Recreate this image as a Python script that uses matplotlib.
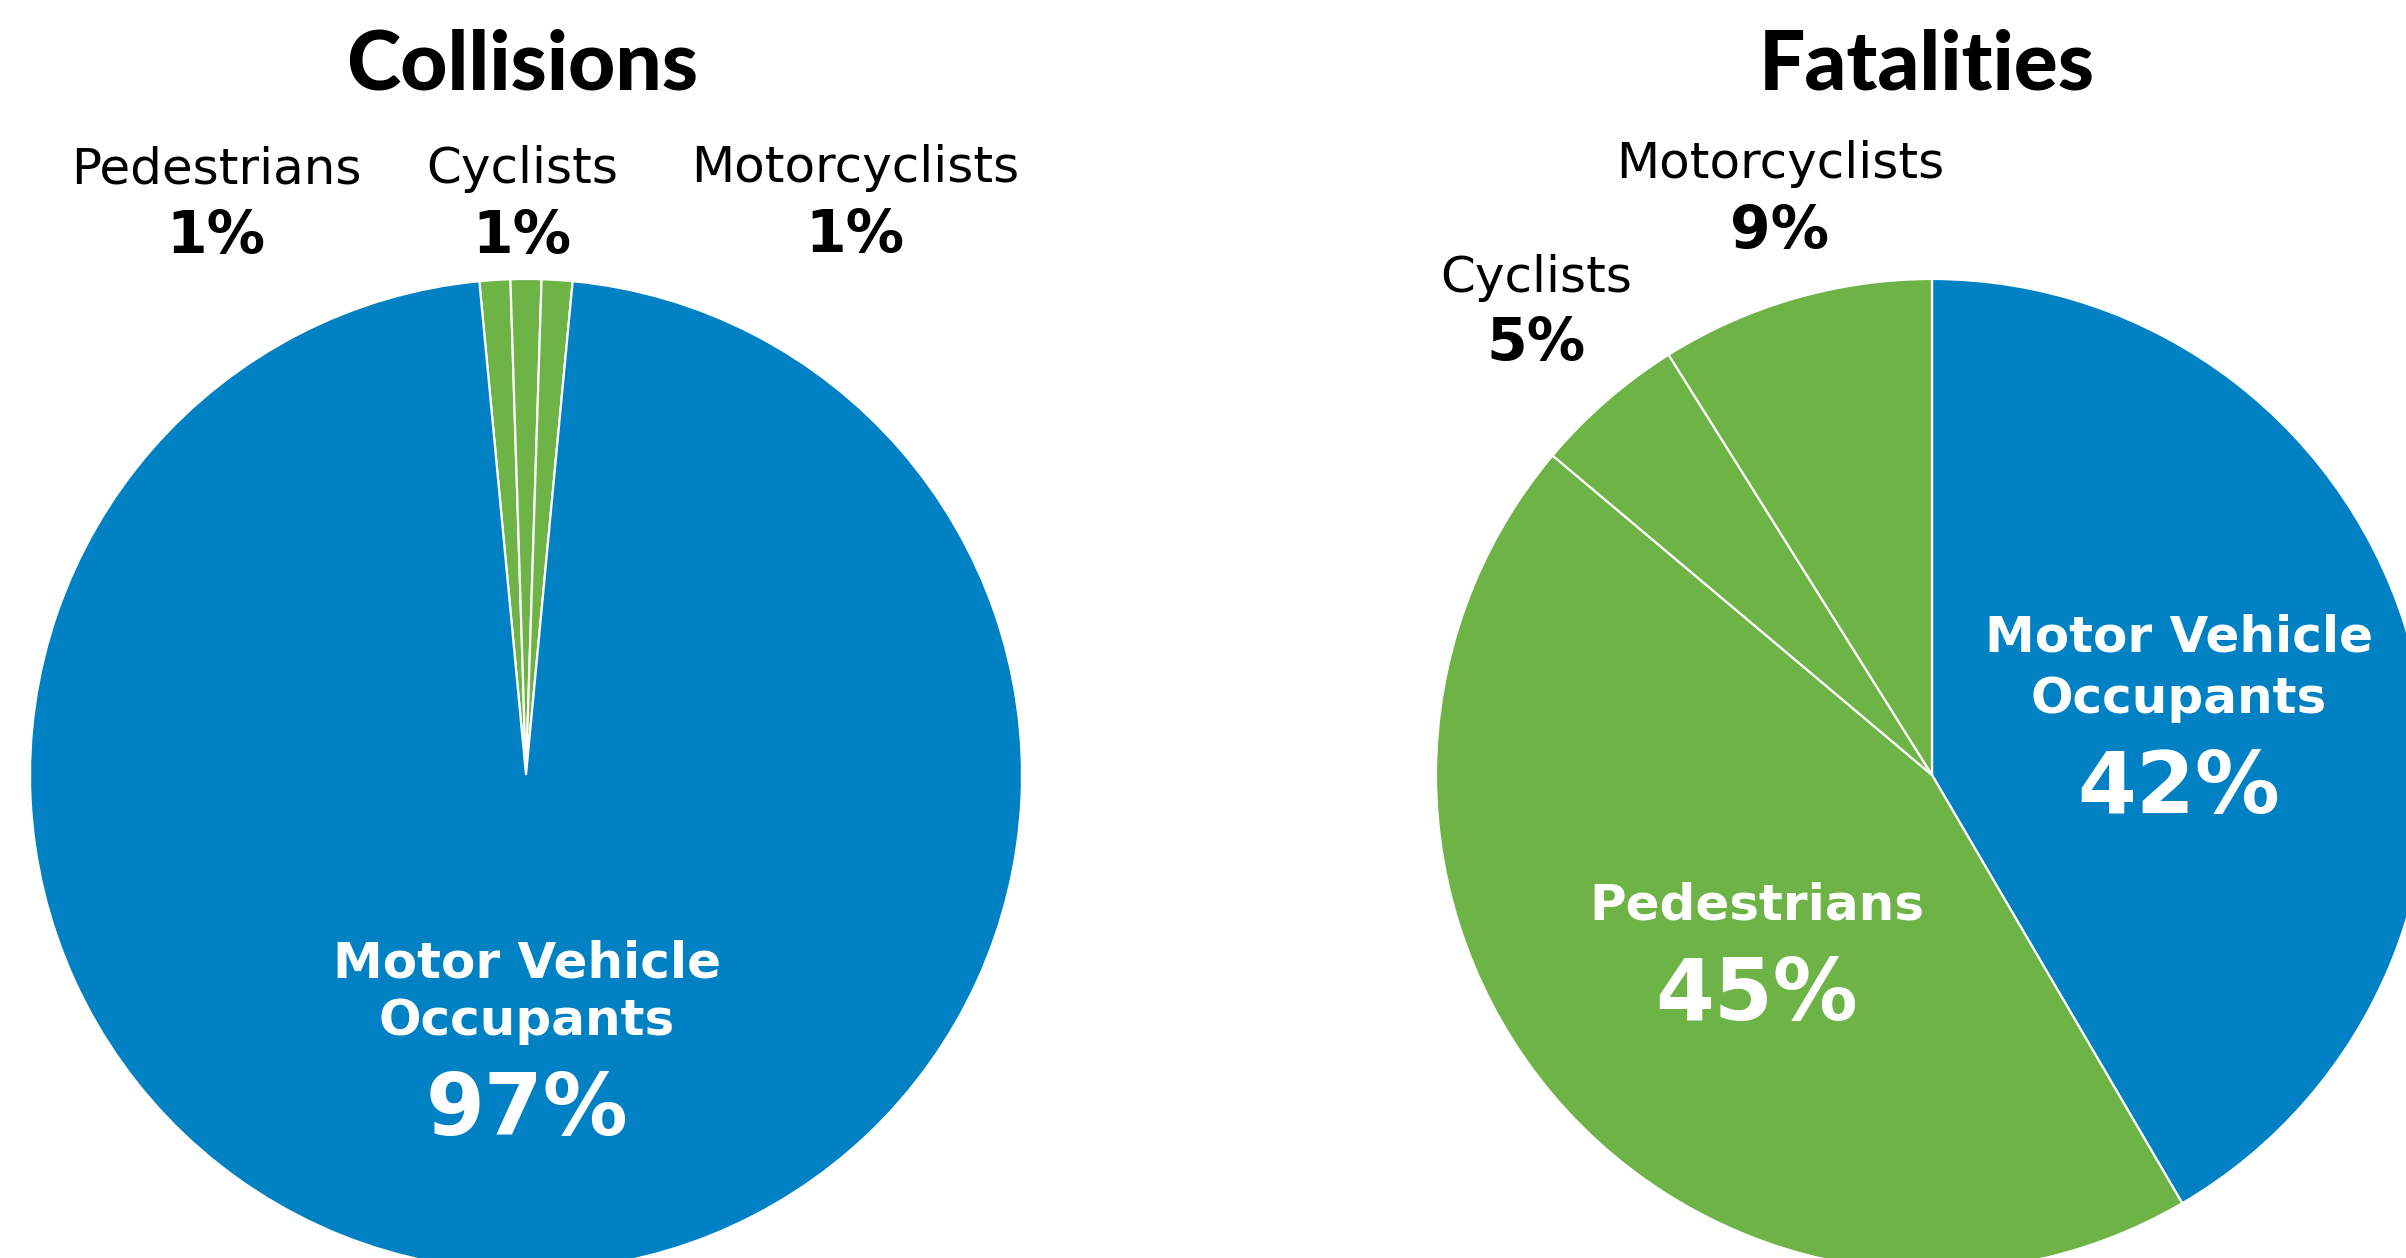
import matplotlib
matplotlib.use("Agg")
import matplotlib.pyplot as plt

W, H = 2406, 1258
BLUE = "#0081C4"
GREEN = "#6DB345"

# Data
collision_labels = ["Pedestrians", "Cyclists", "Motorcyclists", "Motor Vehicle\nOccupants"]
collision_values = [1, 1, 1, 97]
fatality_labels = ["Motor Vehicle\nOccupants", "Pedestrians", "Cyclists", "Motorcyclists"]
fatality_values = [42, 45, 5, 9]
titles = ["Collisions", "Fatalities"]

fig = plt.figure(figsize=(W / 100, H / 100), dpi=100)
ax = fig.add_axes([0, 0, 1, 1])
ax.set_xlim(0, W)
ax.set_ylim(0, H)
ax.set_aspect("equal")
ax.axis("off")

def Y(y):  # convert pixel-from-top to axes y
    return H - y

R = 496
c1 = (526, Y(775))
c2 = (1932, Y(775))

wedge = dict(edgecolor="white", linewidth=1.6)
ax.pie(collision_values, colors=[GREEN, GREEN, GREEN, BLUE], startangle=90 + 5.4,
       counterclock=False, center=c1, radius=R, wedgeprops=wedge, frame=True)
ax.pie(fatality_values, colors=[BLUE, GREEN, GREEN, GREEN], startangle=90,
       counterclock=False, center=c2, radius=R, wedgeprops=wedge, frame=True)
ax.set_xlim(0, W)
ax.set_ylim(0, H)
ax.axis("off")

title_font = dict(family=["Lato", "DejaVu Sans"], fontweight="black", fontsize=59, color="black")
ax.text(522, Y(90), titles[0], ha="center", va="baseline", **title_font)
ax.text(1927, Y(90), titles[1], ha="center", va="baseline", **title_font)

name_font = dict(family="DejaVu Sans", fontsize=36, color="black")
pct_font = dict(family="DejaVu Sans", fontweight="bold", fontsize=42, color="black")

def outer(x, y_name, y_pct, name, val):
    ax.text(x, Y(y_name), name, ha="center", va="baseline", **name_font)
    ax.text(x, Y(y_pct), f"{val}%", ha="center", va="baseline", **pct_font)

# Collisions outside labels
outer(216, 183, 253, collision_labels[0], collision_values[0])
outer(522, 183, 253, collision_labels[1], collision_values[1])
outer(855, 182, 252, collision_labels[2], collision_values[2])
# Fatalities outside labels
outer(1536, 292, 360, fatality_labels[2], fatality_values[2])
outer(1780, 178, 248, fatality_labels[3], fatality_values[3])

in_name = dict(family="DejaVu Sans", fontweight="bold", fontsize=36, color="white")
in_pct = dict(family="DejaVu Sans", fontweight="bold", fontsize=61, color="white")

def inner(x, ys, name_lines, val):
    for line, y in zip(name_lines, ys[:-1]):
        ax.text(x, Y(y), line, ha="center", va="baseline", **in_name)
    ax.text(x, Y(ys[-1]), f"{val}%", ha="center", va="baseline", **in_pct)

inner(527, [977, 1035, 1135], collision_labels[3].split("\n"), collision_values[3])
inner(2179, [652, 713, 813], fatality_labels[0].split("\n"), fatality_values[0])
inner(1757, [919, 1020], [fatality_labels[1]], fatality_values[1])

fig.savefig("out.png", dpi=100)
